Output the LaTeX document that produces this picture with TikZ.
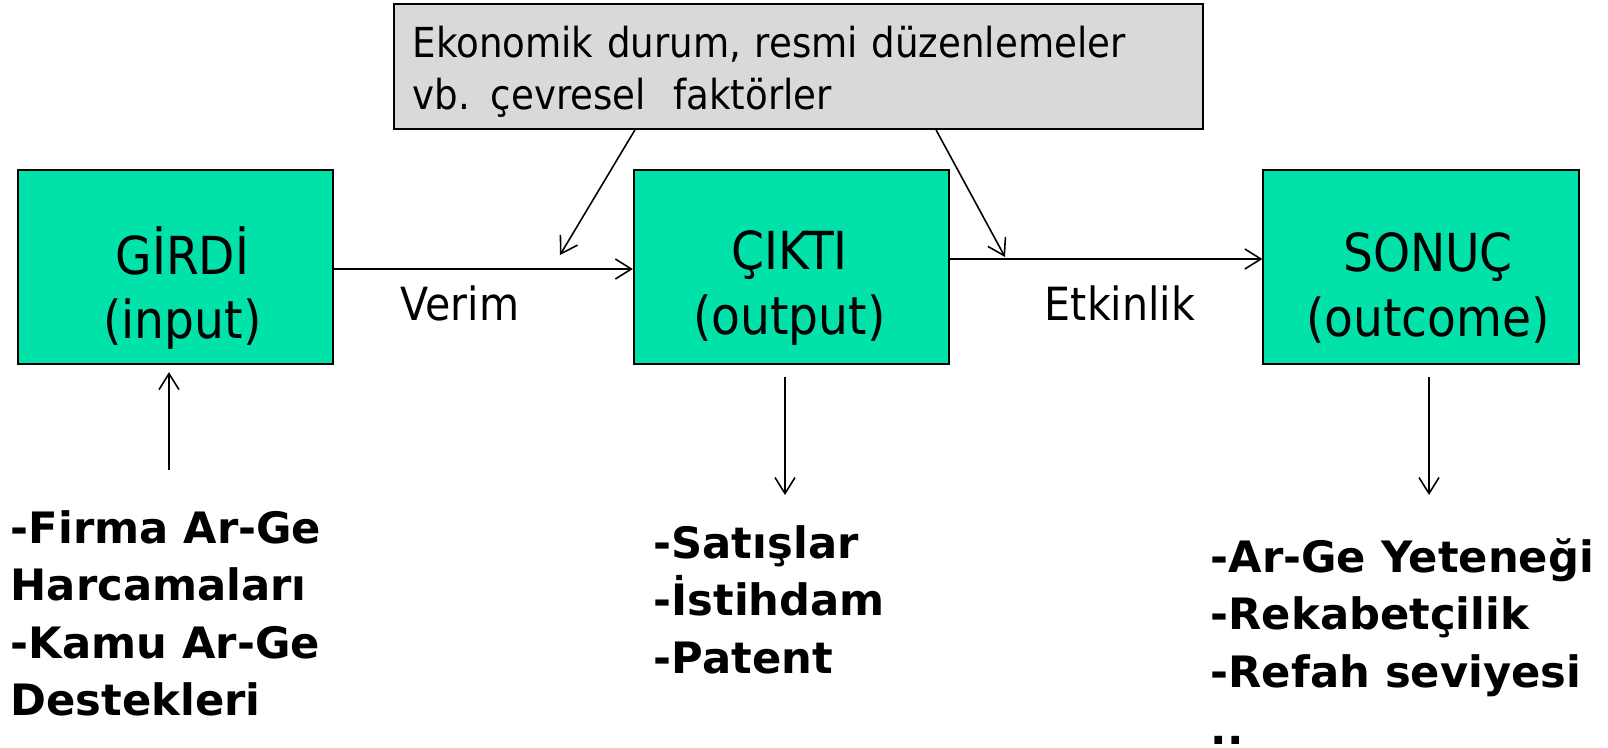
\documentclass[tikz,border=0pt]{standalone}
\usepackage{fontspec}
\setmainfont{DejaVu Sans}
\newfontfamily\condfont{DejaVu Sans Condensed}
\usetikzlibrary{arrows.meta}
\definecolor{kutuyesil}{RGB}{0,226,170}
\definecolor{kutugri}{RGB}{217,217,217}
\tikzset{
  kutu/.style={draw, line width=0.6pt, fill=kutuyesil, minimum width=3.15cm, minimum height=1.94cm, inner sep=0pt},
  kutuyazi/.style={align=center, inner sep=0pt, font=\condfont\fontsize{14.9}{18.4}\selectfont},
  liste/.style={anchor=north west, align=left, inner sep=0pt, font=\bfseries\fontsize{12.3}{16.3}\selectfont},
  etiket/.style={inner sep=0pt, font=\condfont\fontsize{13}{15}\selectfont},
  ok/.style={->, line width=0.45pt},
  >={Straight Barb[length=1.6mm,width=2mm]}
}
\begin{document}
\begin{tikzpicture}[x=0.01cm,y=-0.01cm]
                \useasboundingbox (0,0) rectangle (1608,748);
                \node[draw, line width=0.6pt, fill=kutugri, minimum width=8.09cm, minimum height=1.23cm,
                    text width=7.71cm, text height=0.42cm, inner xsep=0.19cm, align=left,
                    font=\condfont\fontsize{11.75}{14.6}\selectfont] (cevre) at (798.5,66.5)
                    {Ekonomik durum, resmi düzenlemeler\\vb. çevresel\ \ faktörler};
                \node[kutu] (girdi) at (175.5,267) {};
                \node[kutu] (cikti) at (791.5,267) {};
                \node[kutu] (sonuc) at (1421,267) {};
                \node[kutuyazi] (girdiyazi) at ([xshift=0.07cm,yshift=-0.21cm]girdi.center) {GİRDİ\\(input)};
                \node[kutuyazi] (ciktiyazi) at ([xshift=-0.02cm,yshift=-0.21cm]cikti.center) {ÇIKTI\\(output)};
                \node[kutuyazi] (sonucyazi) at ([xshift=0.07cm,yshift=-0.21cm]sonuc.center) {SONUÇ\\(outcome)};
                \node[etiket] (verim) at (460,303) {Verim};
                \node[etiket] (etkinlik) at (1120,303) {Etkinlik};
                \node[liste] (girdiliste) at (10,510) {-Firma Ar-Ge\\Harcamaları\\-Kamu Ar-Ge\\Destekleri};
                \node[liste] (ciktiliste) at (653,525) {-Satışlar\\-İstihdam\\-Patent};
                \node[liste] (sonucliste) at (1210,538) {-Ar-Ge Yeteneği\\-Rekabetçilik\\-Refah seviyesi\\..};
                \coordinate (verimuc) at (560,255);
                \coordinate (etkinlikuc) at (1005,257);
                \coordinate (girdigir) at (169,470);
                \coordinate (ciktiout) at (785,495);
                \coordinate (sonucout) at (1429,495);
                \draw[ok] ([yshift=-0.02cm]girdi.east) -- ([yshift=-0.02cm]cikti.west);
                \draw[ok] ([yshift=0.08cm]cikti.east) -- ([yshift=0.08cm]sonuc.west);
                \draw[ok] ([xshift=-1.635cm]cevre.south) -- (verimuc);
                \draw[ok] ([xshift=1.375cm]cevre.south) -- (etkinlikuc);
                \draw[ok, shorten >=0.07cm] (girdigir) -- (girdigir |- girdi.south);
                \draw[ok, shorten <=0.12cm] (cikti.south -| ciktiout) -- (ciktiout);
                \draw[ok, shorten <=0.12cm] (sonuc.south -| sonucout) -- (sonucout);
            \end{tikzpicture}
\end{document}
